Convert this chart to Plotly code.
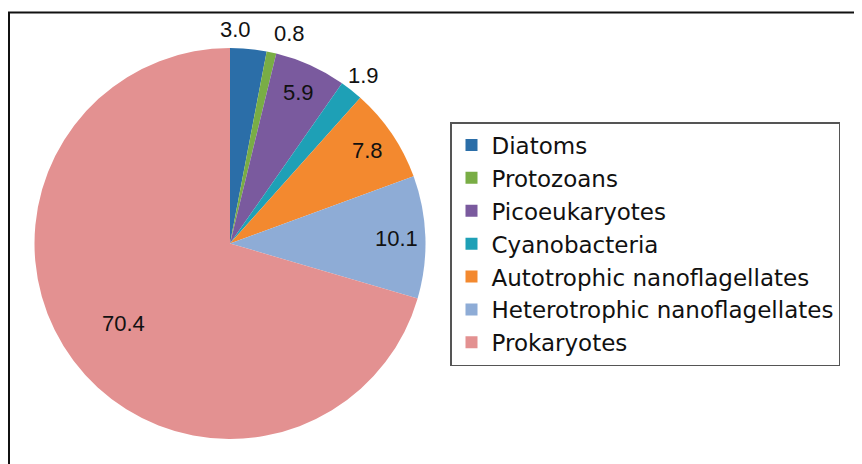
import math
import plotly.graph_objects as go

categories = ["Diatoms", "Protozoans", "Picoeukaryotes", "Cyanobacteria",
              "Autotrophic nanoflagellates", "Heterotrophic nanoflagellates", "Prokaryotes"]
values = [3.0, 0.8, 5.9, 1.9, 7.8, 10.1, 70.4]
label_text = ["3.0", "0.8", "5.9", "1.9", "7.8", "10.1", "70.4"]
colors = ["#2b6ea8", "#79ad45", "#7a5a9e", "#1ea0b6", "#f3892f", "#8eacd6", "#e39191"]
# label placement mode per slice
label_mode = ["outside", "outside", "inside", "outside", "inside", "inside", "big"]

# page body has an 8px margin, so the figure is drawn 8px right/down
OFF = 8
W, H = 862 - OFF, 464 - OFF
FONT = "Liberation Sans, Arial, sans-serif"
LABEL_SIZE = 22

def px(x):
    return (x - OFF) / W

def py(y):
    return 1 - (y - OFF) / H

CX, CY, R = 230, 243.5, 195.5  # pie centre and radius in page pixels
RADIUS_FACTOR = {"outside": None, "inside": 0.85, "big": 0.68}

fig = go.Figure(go.Pie(
    labels=categories,
    values=values,
    textinfo="none",
    marker=dict(colors=colors, line=dict(width=0)),
    sort=False,
    direction="clockwise",
    rotation=0,
    domain=dict(x=[px(CX - R), px(CX + R)], y=[py(CY + R), py(CY - R)]),
    hoverinfo="label+value",
))

# label positions derived from the slice angles
total = sum(values)
cum = 0.0
placed = []
for v, t, m in zip(values, label_text, label_mode):
    theta = 2 * math.pi * (cum + v / 2) / total
    cum += v
    rr = R + 19 if m == "outside" else R * RADIUS_FACTOR[m]
    placed.append([CX + rr * math.sin(theta), CY - rr * math.cos(theta), t, m])

# simple de-overlap of neighbouring outside labels
gap = 0.8 * LABEL_SIZE
outs = [p for p in placed if p[3] == "outside"]
for i in range(1, len(outs)):
    a, b = outs[i - 1], outs[i]
    wa = len(a[2]) * 0.55 * LABEL_SIZE
    wb = len(b[2]) * 0.55 * LABEL_SIZE
    need = wa / 2 + wb / 2 + gap
    if abs(a[1] - b[1]) < LABEL_SIZE and b[0] - a[0] < need:
        shift = (need - (b[0] - a[0])) / 2
        a[0] -= shift
        b[0] += shift

annotations = [
    dict(x=px(x), y=py(y), xref="paper", yref="paper", text=t, showarrow=False,
         xanchor="center", yanchor="middle",
         font=dict(family=FONT, size=LABEL_SIZE, color="#111"))
    for x, y, t, m in placed
]

fig.update_layout(
    width=W, height=H,
    margin=dict(l=0, r=0, t=0, b=0),
    paper_bgcolor="white",
    plot_bgcolor="white",
    font=dict(family=FONT, color="#111"),
    showlegend=True,
    legend=dict(
        x=px(450), y=py(122), xanchor="left", yanchor="top",
        bordercolor="#555", borderwidth=1.5,
        font=dict(family="DejaVu Sans, sans-serif", size=23, color="#111"),
        bgcolor="white",
        tracegroupgap=0,
    ),
    annotations=annotations,
    shapes=[
        dict(type="line", xref="paper", yref="paper",
             x0=0, x1=1, y0=py(12.5), y1=py(12.5),
             line=dict(color="#111", width=2)),
        dict(type="line", xref="paper", yref="paper",
             x0=1 / W, x1=1 / W, y0=0, y1=py(12.5),
             line=dict(color="#111", width=2)),
    ],
)

fig.write_html("out.html")
